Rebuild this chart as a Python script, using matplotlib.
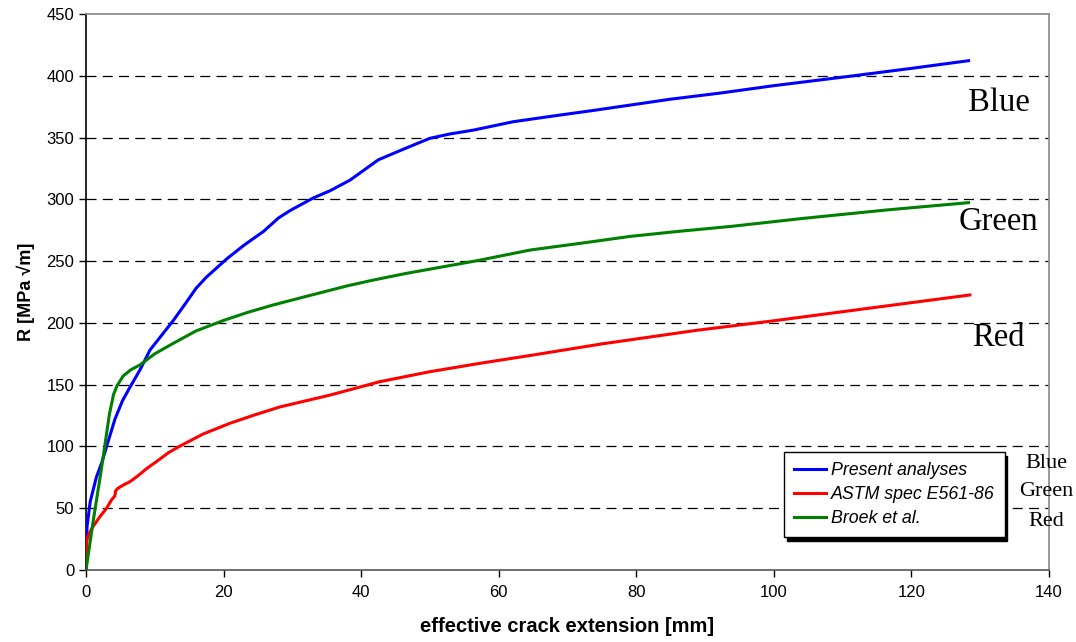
import matplotlib
matplotlib.use("Agg")
import matplotlib.pyplot as plt

# ---- data ----
blue_x = [0, 0.15, 0.6, 1.5, 2.3, 3.0, 4.2, 5.3, 6.4, 7.85, 9.3, 11, 12.7, 14.5, 16, 17.5,
          20.5, 23, 25.8, 28, 29.7, 33, 35.5, 38.4, 42.5, 45.9, 48.5, 50, 53, 56.3,
          62.1, 68, 74.2, 80, 84.9, 92.2, 100, 110.6, 120, 128.3]
blue_y = [0, 35, 55, 75, 87, 100, 122, 137, 148, 162, 178, 190, 202, 216, 228, 237,
          252, 263, 274, 285, 291, 301, 307, 315.6, 332, 340, 346, 349.4, 353, 356,
          362.8, 367.5, 372.3, 377, 381, 386, 392, 399.3, 406, 412.2]

red_x = [0, 0.1, 0.5, 1.0, 2.0, 3.0, 3.7, 4.2, 4.3, 4.6, 5.5, 6.4, 7.5, 8.8, 10.8, 12,
         13.7, 17, 20.9, 24.5, 28.2, 35.5, 42.7, 50, 57.3, 65, 75, 88.8, 100.4, 114, 128.5]
red_y = [0, 24, 30, 35, 43, 50, 56.7, 60, 64, 66, 69, 71.5, 76, 82, 90, 95,
         100.4, 110, 118.7, 125.5, 132, 141.6, 152.4, 160.5, 167.3, 174, 183, 194, 202, 212, 222.6]

green_x = [0, 1.0, 2.3, 3.4, 4.0, 4.5, 5.4, 6.5, 7.85, 10, 12.7, 16, 20, 23.5, 27.2, 31,
           34.5, 38, 41.8, 46.5, 51.5, 57, 64.6, 72, 79.1, 86, 93.6, 104.3, 116.4, 128.3]
green_y = [0, 38, 84, 126, 142, 149, 157, 162, 166, 175, 183.5, 193.5, 202, 208.5, 214.5, 220,
           225, 230, 234.7, 240, 245, 250.5, 259, 264.5, 270, 274, 278, 284.6, 291.4, 297.3]

series_labels = ["Present analyses", "ASTM spec E561-86", "Broek et al."]
side_labels = ["Blue", "Green", "Red"]
x_ticks = [0, 20, 40, 60, 80, 100, 120, 140]
y_ticks = [0, 50, 100, 150, 200, 250, 300, 350, 400, 450]

# ---- figure ----
plt.rcParams['font.family'] = ['Liberation Sans', 'DejaVu Sans']
fig = plt.figure(figsize=(10.76, 6.42), dpi=100)
ax = fig.add_axes([86/1076, 1 - 570/642, (1049 - 86)/1076, (570 - 14)/642])

for yv in y_ticks[1:-1]:
    ax.axhline(yv, color='black', lw=0.9, ls=(0, (8, 5)), zorder=1)

ax.plot(blue_x, blue_y, color='#0000ff', lw=2.2, label=series_labels[0], zorder=3)
ax.plot(red_x, red_y, color='#ff0000', lw=2.2, label=series_labels[1], zorder=3)
ax.plot(green_x, green_y, color='#008000', lw=2.2, label=series_labels[2], zorder=3)

ax.set_xlim(0, 140)
ax.set_ylim(0, 450)
ax.set_xticks(x_ticks)
ax.set_yticks(y_ticks)
ax.tick_params(labelsize=12, direction='out', length=5, width=1, color='black')
ax.tick_params(axis='x', pad=6)

ax.spines['left'].set_color('black')
ax.spines['bottom'].set_color('#555555')
ax.spines['top'].set_color('#888888')
ax.spines['right'].set_color('#888888')
for s in ax.spines.values():
    s.set_linewidth(1.2)

ax.set_xlabel("effective crack extension [mm]", fontsize=14.5, fontweight='bold', labelpad=12)
ax.set_ylabel("R [MPa \u221am]", fontsize=13, fontweight='bold', labelpad=8)

# side labels (serif)
serif = ['Liberation Serif', 'DejaVu Serif']
big_pos = [(998.5, 103), (998.5, 221.5), (998, 338)]
for (px, py), lab in zip(big_pos, side_labels):
    fig.text(px/1076, 1 - py/642, lab, family=serif, fontsize=23.5, ha='center', va='center')

small_pos = [(1046.5, 463.5), (1046, 491.5), (1046.5, 521.5)]
for (px, py), lab in zip(small_pos, side_labels):
    fig.text(px/1076, 1 - py/642, lab, family=serif, fontsize=16, ha='center', va='center')

leg = ax.legend(loc='upper left', bbox_to_anchor=(784/1076, 1 - 452/642),
                bbox_transform=fig.transFigure, prop={'style': 'italic', 'size': 12.8},
                frameon=True, fancybox=False, edgecolor='black', framealpha=1,
                borderpad=0.55, labelspacing=0.4, handlelength=1.8, handletextpad=0.3,
                borderaxespad=0,
                shadow={'color': 'black', 'alpha': 1, 'ox': 2, 'oy': -3})
leg.get_frame().set_linewidth(1.0)
leg.set_zorder(5)

fig.savefig("out.png", dpi=100)
